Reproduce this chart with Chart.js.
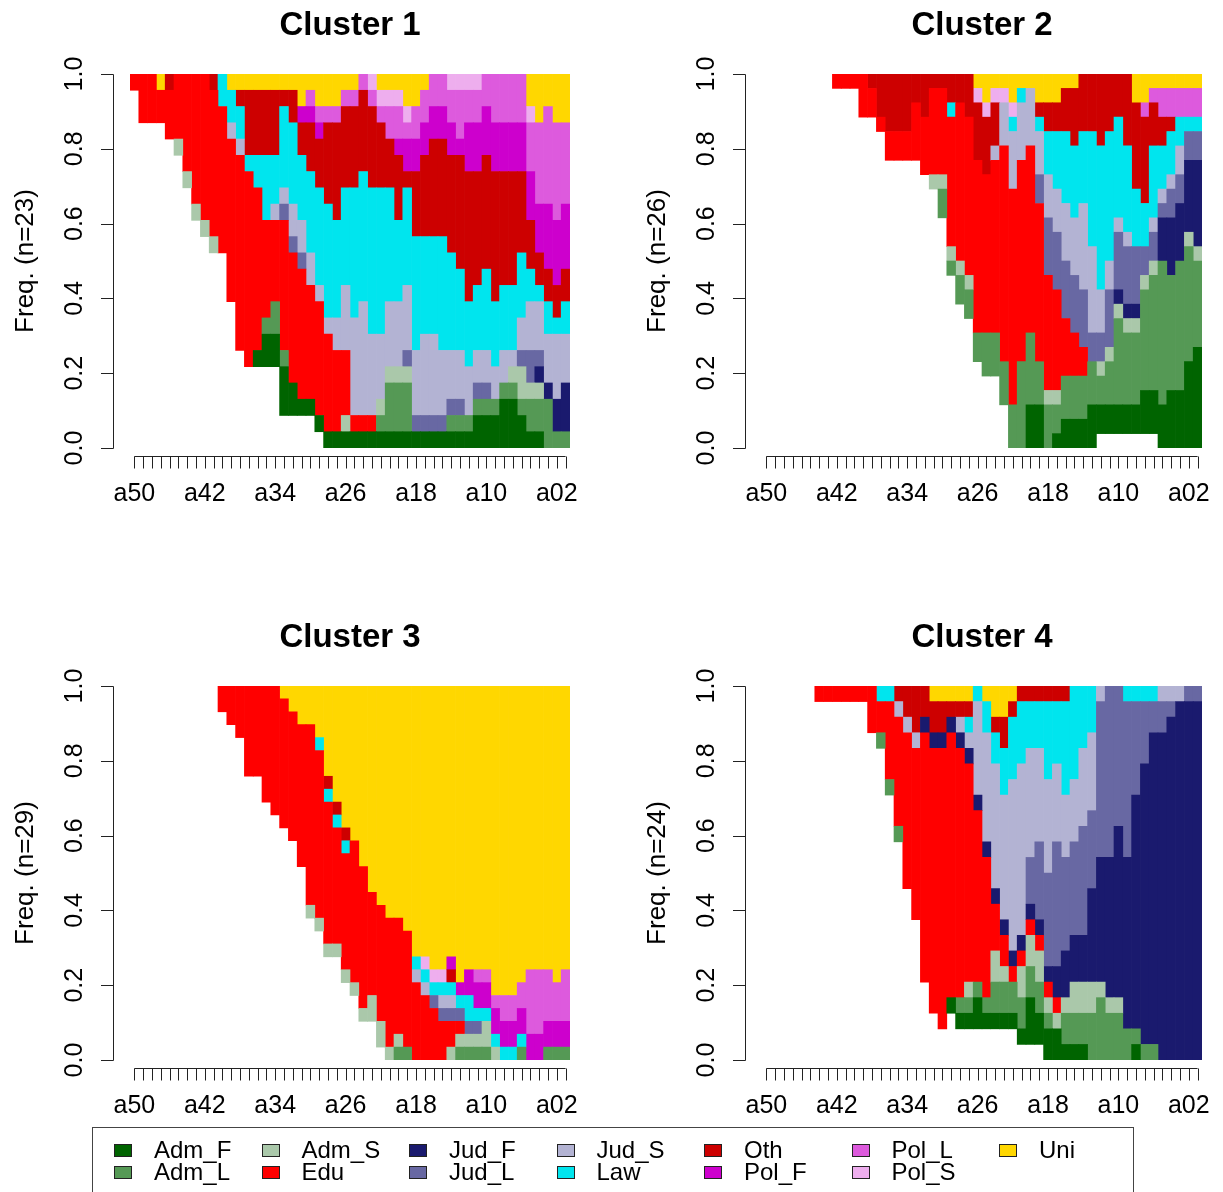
<!DOCTYPE html>
<html>
<head>
<meta charset="utf-8">
<title>Clusters - distribución de estados</title>
<script src="https://cdn.jsdelivr.net/npm/chart.js@4.4.1/dist/chart.umd.min.js"></script>
<style>
  body { margin: 0; background: #fff; width: 1223px; height: 1192px; overflow: hidden; position: relative; font-family: "Liberation Sans", Arial, sans-serif; }
  canvas { position: absolute; }
  #leyenda { position: absolute; left: 92px; top: 1127px; width: 1042px; height: 90px; border: 1px solid #444; box-sizing: border-box; }
  .item { position: absolute; font-size: 24px; line-height: 24px; color: #000; white-space: nowrap; }
  .caja { position: absolute; left: 0; top: 6px; width: 16px; height: 11px; border: 1px solid #222; }
  .texto { position: absolute; left: 40px; top: 0; }
</style>
</head>
<body>
<canvas id="plot1" width="591" height="530" style="left:0px;top:0px"></canvas>
<canvas id="plot2" width="591" height="530" style="left:632px;top:0px"></canvas>
<canvas id="plot3" width="591" height="530" style="left:0px;top:612px"></canvas>
<canvas id="plot4" width="591" height="530" style="left:632px;top:612px"></canvas>
<div id="leyenda"></div>
<script>
// Estados (orden de apilado, de abajo hacia arriba) y sus códigos de una letra
let estados = ['Adm_F', 'Adm_L', 'Adm_S', 'Edu', 'Jud_F', 'Jud_L', 'Jud_S', 'Law', 'Oth', 'Pol_F', 'Pol_L', 'Pol_S', 'Uni'];
let codigos = ['f', 'l', 's', 'E', 'J', 'K', 'S', 'W', 'O', 'P', 'Q', 'R', 'U'];
let colores = ['#006400', '#559955', '#AAC8AA', '#FF0000', '#1A1A6E', '#6868A3', '#B3B3D3', '#00E5EE', '#CD0000', '#CD00CD', '#DD5ADD', '#EEAEEE', '#FFD700'];

// Posiciones en el tiempo
let categorias = ['a50','a49','a48','a47','a46','a45','a44','a43','a42','a41','a40','a39','a38','a37','a36','a35','a34','a33','a32','a31',
  'a30','a29','a28','a27','a26','a25','a24','a23','a22','a21','a20','a19','a18','a17','a16','a15','a14','a13','a12','a11',
  'a10','a09','a08','a07','a06','a05','a04','a03','a02','a01'];
let etiquetasX = ['a50', 'a42', 'a34', 'a26', 'a18', 'a10', 'a02'];
let ticksY = [0, 0.2, 0.4, 0.6, 0.8, 1.0];
let titulos = ['Cluster 1', 'Cluster 2', 'Cluster 3', 'Cluster 4'];
let tamanos = [23, 26, 29, 24];

// Conteos por columna: código de estado + número de secuencias (el resto es faltante)
let cluster1 = ['E1', 'E3', 'E3', 'U1 E2', 'O1 E3', 'E4 s1', 'E6 s1', 'E8 s1', 'E9 s1', 'O1 E9 s1',
  'W2 E9', 'U1 W2 S1 E10', 'U1 O1 W2 S1 E12', 'U1 O4 W1 E12', 'U1 O4 W2 E10 f1', 'U1 O4 W4 E6 l1 f2', 'U1 O4 W3 S1 E5 l2 f2', 'U1 O1 W5 S1 K1 E8 l1 f3', 'U1 O2 W5 S2 K1 E8 f2', 'U2 P1 O2 W4 S2 K1 E8 f1',
  'U1 Q1 P1 O3 W5 S2 E7 f1', 'U2 Q1 P1 O3 W6 S1 E7 f1', 'U2 Q1 O5 W7 S1 E6 f1', 'U2 Q1 O6 W6 S2 E5 f1', 'U1 Q1 O5 W6 S4 E4 s1 f1', 'U1 Q1 O5 W8 S6 E1 f1', 'Q1 O5 W8 S7 E1 f1', 'R1 Q1 O5 W9 S5 E1 f1', 'U1 R1 Q1 O4 W9 S4 s1 l1 f1', 'U1 R1 Q2 O3 W7 S4 s1 l3 f1',
  'U1 R1 Q2 P1 O4 W5 S4 s1 l3 f1', 'U2 R1 Q1 P2 O1 W6 S4 K1 s1 l3 f1', 'U2 Q2 P2 O4 W7 S4 K1 f1', 'U1 Q2 P2 O5 W6 S5 K1 f1', 'Q2 P2 O6 W6 S5 K1 f1', 'Q2 P2 O6 W7 S4 K1 f1', 'R1 Q2 P2 O6 W6 S3 K1 l1 f1', 'R1 Q3 P1 O7 W5 S3 K1 l1 f1', 'R1 Q2 P3 O8 W4 S3 l1 f1', 'R1 Q2 P3 O7 W4 S2 K1 l1 f2',
  'Q2 P3 O7 W5 S2 K1 l1 f2', 'Q3 P3 O8 W4 S2 l1 f2', 'Q3 P3 O7 W4 S2 l1 f3', 'Q3 P3 O7 W4 S1 s1 l1 f3', 'Q3 P3 O5 W4 S2 K1 s2 l1 f2', 'U2 R1 Q3 P3 O3 W2 S3 K2 s1 l2 f1', 'U3 Q5 P3 O2 W1 S3 K1 J1 s1 l2 f1', 'U2 Q6 P4 O2 W2 S3 J1 l3', 'U3 Q6 P4 O2 W1 S4 J2 l1', 'U3 Q5 P4 O2 W2 S3 J3 l1'];

let cluster2 = ['', '', '', '', '', '', '', '', 'E1', 'E1',
  'E1', 'E3', 'O1 E2', 'O3 E1', 'O4 E2', 'O4 E2', 'O4 E2', 'O2 E4', 'O3 E4', 'O1 E6 s1',
  'O1 E6 s1 l2', 'O2 W1 E9 s1 l1', 'O2 E11 s1 l2', 'O3 E11 s1 l2', 'U1 R1 O4 E12 l2', 'U2 R1 O4 E11 l3', 'U1 R1 O3 S1 E12 l3', 'U1 R1 S3 E15 l3', 'U2 R1 W1 S4 E15 l3', 'U1 W1 S4 E14 l6',
  'U1 S4 E13 l5 f3', 'U2 O1 W1 S3 K2 E11 l3 f3', 'U2 O2 W3 S3 K4 E8 s1 l3', 'U2 O2 W4 S3 K4 E7 s1 l2 f1', 'U1 O3 W5 S4 K4 E4 l3 f2', 'U1 O4 W5 S4 K4 E3 l3 f2', 'O4 W5 S6 K4 E2 l3 f2', 'O4 W8 S6 K2 l3 f3', 'O5 W10 S3 K2 s1 l2 f2', 'O4 W9 S2 K4 s1 l3 f2',
  'O3 W7 S1 K4 J1 s1 l6 f2', 'O5 W6 S1 K4 J1 s1 l5 f2', 'U2 O6 W4 K4 J1 s1 l5 f2', 'U2 Q1 O6 W3 K2 s1 l7 f3', 'U1 Q1 O3 W5 S1 K2 s1 l8 f3', 'U1 Q2 O2 W3 S1 K1 J3 l10 f3', 'U1 Q2 O1 W3 S1 K2 J4 l8 f4', 'U1 Q2 W2 S2 K2 J4 l9 f4', 'U1 Q2 W1 K2 J5 s1 l8 f6', 'U1 Q2 W1 K2 J6 s1 l6 f7'];

let cluster3 = ['', '', '', '', '', '', '', '', '', '',
  'E2', 'E3', 'E4', 'E7', 'E7', 'E9', 'E10', 'U1 E10', 'U2 E10', 'U3 E11',
  'U3 E14 s1', 'U4 W1 E13 s1', 'U7 O1 W1 E11 s1', 'U9 O1 W1 E9 s1', 'U11 O1 W1 E9 s1', 'U12 E11 s1', 'U14 E11 s1', 'U16 E8 s2', 'U17 E9 s2', 'U18 E10 s1',
  'U18 E9 s1 l1', 'U19 E9 l1', 'U21 W1 S1 E6', 'U21 R1 W1 S1 E5', 'U22 R1 W1 K1 E4', 'U22 R1 W1 S1 K1 E3', 'U21 P1 O1 W1 S1 K1 E2 s1', 'U23 P1 W1 K1 E1 s1 l1', 'U22 P2 W2 K1 s1 l1', 'U22 Q1 P2 W1 K1 s1 l1',
  'U22 Q1 P2 W1 s2 l1', 'U24 Q1 P2 W1 s1', 'U24 Q2 P2 W1', 'U24 Q2 P2 W1', 'U23 Q2 P2 W1 l1', 'U22 Q5 P2', 'U22 Q5 P2', 'U22 Q4 P2 l1', 'U23 Q3 P2 l1', 'U22 Q4 P2 l1'];

let cluster4 = ['', '', '', '', '', '', 'E1', 'E1', 'E1', 'E1',
  'E1', 'E1', 'E3', 'W1 E2 l1', 'W1 E5 l1', 'O1 S1 E7 l1', 'O2 S1 E10', 'O3 S1 E11', 'O2 J1 E16', 'U1 O2 J1 E17',
  'U1 O2 J1 E18', 'U1 O1 J1 E17 f1', 'U1 O1 S1 J1 E16 l1 f1', 'U1 O1 W1 S1 J1 E14 s1 l1 f1', 'W1 S6 J1 E11 l1 f2', 'U1 W2 S7 J1 E9 l1 f1', 'U2 O1 W2 S8 J1 E3 s2 l2 f1', 'U2 O2 W3 S8 J1 E2 s1 l2 f1', 'U1 O1 W4 S11 J1 E1 l2 f1', 'O1 W4 S11 J1 E1 s2 l2 f1',
  'O1 W3 S7 K3 J1 E1 s2 l2 f3', 'O1 W3 S6 K5 J1 E1 s2 l2 f2', 'O1 W5 S6 K6 J1 E1 s1 l1 f2', 'O1 W4 S5 K8 J2 E1 s1 f2', 'O1 W6 S4 K6 J3 s1 l2 f1', 'W6 S4 K6 J3 s2 l2 f1', 'W4 S5 K7 J3 s2 l2 f1', 'W3 S5 K5 J6 s2 l3', 'S1 K10 J8 s1 l4', 'K11 J9 s1 l3',
  'K9 J11 s1 l3', 'W1 K10 J11 l2', 'W1 K6 J15 l1 f1', 'W1 K4 J18 l1', 'W1 K2 J20 l1', 'S1 K2 J21', 'S1 K1 J22', 'S1 J23', 'K1 J23', 'K1 J23'];

let clusters = [cluster1, cluster2, cluster3, cluster4];
let fuente = '"Liberation Sans", Arial, Helvetica, sans-serif';

// Convierte 'U1 E2' en {U:1, E:2}
let contar = (col) => {
  let c = {};
  col.split(' ').filter(t => t.length > 0).forEach(t => { c[t[0]] = parseInt(t.slice(1)); });
  return c;
};

// Datasets apilados: primero los faltantes (transparentes, abajo), luego cada estado
// Los ceros van como null para que no se dibuje ninguna línea fina
let crearDatasets = (columnas, n) => {
  let conteos = columnas.map(contar);
  let faltantes = conteos.map(c => {
    let m = n - Object.values(c).reduce((a, b) => a + b, 0);
    return m > 0 ? m / n : null;
  });
  let datasets = [{ label: 'missing', data: faltantes, backgroundColor: 'rgba(0,0,0,0)', inflateAmount: 0 }];
  codigos.forEach((cod, i) => {
    datasets.push({ label: estados[i], data: conteos.map(c => c[cod] ? c[cod] / n : null), backgroundColor: colores[i] });
  });
  return datasets;
};

// Ejes al estilo de R, dibujados con las escalas del gráfico
let ejesR = {
  id: 'ejesR',
  afterDraw: (chart, args, opts) => {
    let ctx = chart.ctx;
    let a = chart.chartArea;
    let sx = chart.scales.x;
    let sy = chart.scales.y;
    ctx.save();
    ctx.strokeStyle = '#222';
    ctx.fillStyle = '#000';
    ctx.lineWidth = 1;

    //Eje y
    let xe = Math.round(a.left - 17) + 0.5;
    ctx.beginPath();
    ctx.moveTo(xe, Math.round(sy.getPixelForValue(0)) + 0.5);
    ctx.lineTo(xe, Math.round(sy.getPixelForValue(1)) + 0.5);
    ticksY.forEach(v => {
      let py = Math.round(sy.getPixelForValue(v)) + 0.5;
      ctx.moveTo(xe, py);
      ctx.lineTo(xe - 12.5, py);
    });
    ctx.stroke();

    ctx.font = '25px ' + fuente;
    ctx.textAlign = 'center';
    ctx.textBaseline = 'alphabetic';
    ticksY.forEach(v => {
      ctx.save();
      ctx.translate(a.left - 48, sy.getPixelForValue(v));
      ctx.rotate(-Math.PI / 2);
      ctx.fillText(v.toFixed(1), 0, 0);
      ctx.restore();
    });

    //Título del eje y
    ctx.save();
    ctx.font = '26px ' + fuente;
    ctx.translate(a.left - 97, (a.top + a.bottom) / 2);
    ctx.rotate(-Math.PI / 2);
    ctx.fillText('Freq. (n=' + opts.n + ')', 0, 0);
    ctx.restore();

    //Eje x
    let ye = Math.round(a.bottom + 8) + 0.5;
    ctx.beginPath();
    ctx.moveTo(sx.getPixelForValue(0), ye);
    ctx.lineTo(sx.getPixelForValue(categorias.length - 1), ye);
    categorias.forEach((c, i) => {
      let px = Math.round(sx.getPixelForValue(i)) + 0.5;
      ctx.moveTo(px, ye);
      ctx.lineTo(px, ye + 12);
    });
    ctx.stroke();
    ctx.font = '25px ' + fuente;
    etiquetasX.forEach(et => {
      let i = categorias.indexOf(et);
      ctx.fillText(et, sx.getPixelForValue(i), a.bottom + 53);
    });

    //Título
    ctx.font = 'bold 33px ' + fuente;
    ctx.fillText(opts.titulo, (a.left + a.right) / 2, a.top - 39);
    ctx.restore();
  }
};

let crearGrafico = (k) => {
  let plotRef = document.getElementById('plot' + (k + 1));
  let config = {
    type: 'bar',
    data: { labels: categorias, datasets: crearDatasets(clusters[k], tamanos[k]) },
    options: {
      responsive: false,
      animation: false,
      devicePixelRatio: 1,
      layout: { padding: { left: 130, right: 21, top: 74, bottom: 82 } },
      datasets: { bar: { barPercentage: 1, categoryPercentage: 1, borderWidth: 0 } },
      scales: {
        x: { stacked: true, display: false },
        y: { stacked: true, display: false, min: 0, max: 1 }
      },
      plugins: {
        legend: { display: false },
        tooltip: { enabled: false },
        ejesR: { n: tamanos[k], titulo: titulos[k] }
      }
    },
    plugins: [ejesR]
  };
  new Chart(plotRef, config);
};

let cargarLeyenda = () => {
  let leyenda = document.getElementById('leyenda');
  estados.forEach((e, i) => {
    let col = Math.floor(i / 2);
    let fila = i % 2;
    let item = document.createElement('div');
    item.className = 'item';
    item.style.left = (21 + col * 147.5) + 'px';
    item.style.top = (10 + fila * 22) + 'px';
    item.innerHTML = '<span class="caja" style="background:' + colores[i] + '"></span><span class="texto">' + e + '</span>';
    leyenda.appendChild(item);
  });
};

[0, 1, 2, 3].forEach(crearGrafico);
cargarLeyenda();
</script>
</body>
</html>
